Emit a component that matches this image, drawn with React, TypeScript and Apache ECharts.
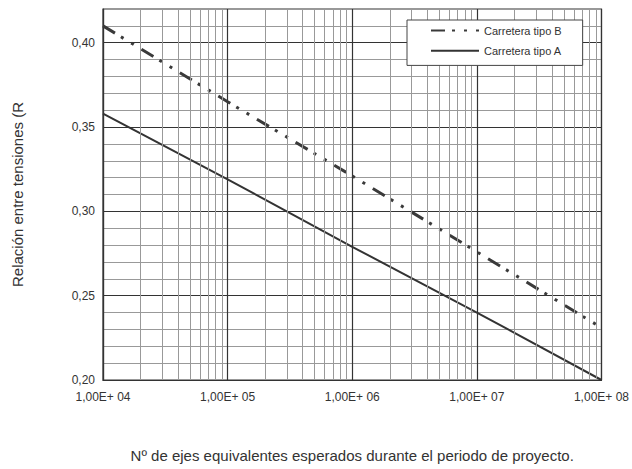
import React, { useEffect, useRef } from "react";
import * as echarts from "echarts";

const xValues = [1e4, 1e5, 1e6, 1e7, 1e8];
const tipoB = [0.41, 0.365, 0.321, 0.276, 0.231];
const tipoA = [0.358, 0.319, 0.279, 0.24, 0.2];
const xTickValues = [1e4, 1e5, 1e6, 1e7, 1e8];
const xTickLabels = ["1,00E+ 04", "1,00E+ 05", "1,00E+ 06", "1,00E+ 07", "1,00E+ 08"];
const yTickValues = [0.2, 0.25, 0.3, 0.35, 0.4];
const yTickLabels = ["0,20", "0,25", "0,30", "0,35", "0,40"];
const minorMultipliers = [2, 3, 4, 5, 6, 7, 8, 9];
const decades = [1e4, 1e5, 1e6, 1e7];

export default function App() {
  const ref = useRef<HTMLDivElement>(null);
  useEffect(() => {
    if (!ref.current) return;
    const chart = echarts.init(ref.current, null, { renderer: "svg" });
    const minorX: number[] = [];
    decades.forEach((d) => minorMultipliers.forEach((m) => minorX.push(d * m)));
    const font = "'Liberation Sans', Arial, sans-serif";
    chart.setOption({
      animation: false,
      backgroundColor: "#fff",
      textStyle: { fontFamily: font },
      grid: {
        left: 103,
        right: 28,
        top: 9,
        bottom: 89,
        show: true,
        borderColor: "#333",
        borderWidth: 1.2,
      },
      legend: {
        data: ["Carretera tipo B", "Carretera tipo A"],
        orient: "vertical",
        left: 407,
        top: 20,
        z: 20,
        padding: [5, 21, 9, 23],
        itemWidth: 48,
        itemHeight: 14,
        itemGap: 9,
        backgroundColor: "#fff",
        borderColor: "#444",
        borderWidth: 1,
        itemStyle: { opacity: 0 },
        textStyle: { fontSize: 11, color: "#333", fontFamily: font },
      },
      xAxis: {
        type: "log",
        logBase: 10,
        min: 1e4,
        max: 1e8,
        name: "Nº de ejes equivalentes esperados durante el periodo de proyecto.",
        nameLocation: "middle",
        nameGap: 68,
        nameTextStyle: { fontSize: 15, color: "#333" },
        axisLine: { show: true, lineStyle: { color: "#333", width: 1.2 } },
        axisTick: { show: false },
        axisLabel: {
          fontSize: 12,
          color: "#333",
          margin: 11,
          formatter: (v: number) => {
            const i = xTickValues.findIndex((t) => Math.abs(Math.log10(t) - Math.log10(v)) < 1e-6);
            return i >= 0 ? xTickLabels[i] : "";
          },
        },
        splitLine: { show: true, lineStyle: { color: "#333", width: 1.2 } },
      },
      yAxis: {
        type: "value",
        min: 0.2,
        max: 0.42,
        interval: 0.01,
        name: "Relación entre tensiones (R",
        nameLocation: "middle",
        nameGap: 78,
        nameTextStyle: { fontSize: 15, color: "#333" },
        axisLine: { show: true, lineStyle: { color: "#333", width: 1.2 } },
        axisTick: { show: false },
        axisLabel: {
          fontSize: 12,
          color: "#333",
          margin: 8,
          formatter: (v: number) => {
            const i = yTickValues.findIndex((t) => Math.abs(t - v) < 1e-6);
            return i >= 0 ? yTickLabels[i] : "";
          },
        },
        splitLine: {
          show: true,
          lineStyle: { color: ["#333", "#999", "#999", "#999", "#999"], width: 1 },
        },
      },
      series: [
        {
          name: "grid",
          type: "line",
          data: [[1e4, 0.2]],
          symbol: "none",
          lineStyle: { width: 0 },
          silent: true,
          z: 1,
          markLine: {
            silent: true,
            symbol: "none",
            label: { show: false },
            lineStyle: { color: "#999", width: 1, type: "solid" },
            data: minorX.map((x) => ({ xAxis: x })),
          },
        },
        {
          name: "Carretera tipo B",
          type: "line",
          data: xValues.map((x, i) => [x, tipoB[i]]),
          symbol: "none",
          z: 3,
          lineStyle: { color: "#3a3a3a", width: 3, type: [14, 7, 3, 9, 3, 9] },
          itemStyle: { color: "#3a3a3a" },
        },
        {
          name: "Carretera tipo A",
          type: "line",
          data: xValues.map((x, i) => [x, tipoA[i]]),
          symbol: "none",
          z: 3,
          lineStyle: { color: "#333", width: 2 },
          itemStyle: { color: "#333" },
        },
      ],
    });
    return () => chart.dispose();
  }, []);
  return <div ref={ref} style={{ width: 632, height: 469, position: "fixed", left: 0, top: 0 }} />;
}
